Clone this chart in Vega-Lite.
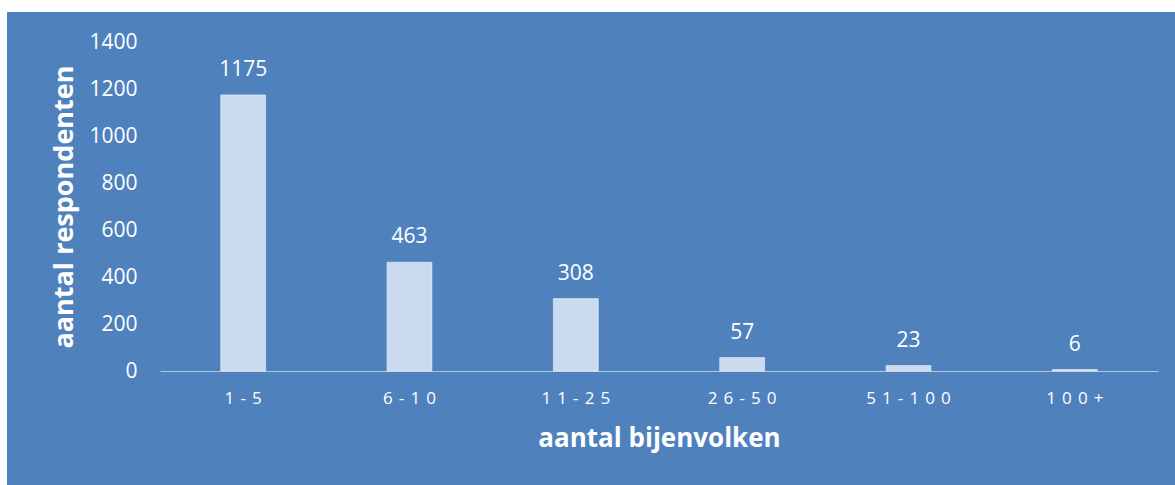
{
  "$schema": "https://vega.github.io/schema/vega-lite/v6.json",
  "width": 1168,
  "height": 473,
  "autosize": {"type": "none"},
  "padding": {"left": 7, "top": 12, "right": 0, "bottom": 0},
  "background": "white",
  "config": {
    "view": {"fill": "#4F81BD", "stroke": null},
    "font": "Open Sans"
  },
  "data": {
    "values": [
      {"bijenvolken": "1-5", "respondenten": 1175},
      {"bijenvolken": "6-10", "respondenten": 463},
      {"bijenvolken": "11-25", "respondenten": 308},
      {"bijenvolken": "26-50", "respondenten": 57},
      {"bijenvolken": "51-100", "respondenten": 23},
      {"bijenvolken": "100+", "respondenten": 6}
    ]
  },
  "encoding": {
    "x": {
      "field": "bijenvolken",
      "type": "nominal",
      "sort": null,
      "scale": {"range": [153, 1151], "paddingInner": 0.73, "paddingOuter": 0.365},
      "axis": {
        "title": "aantal bijenvolken",
        "titleFont": "Open Sans",
        "titleFontSize": 26,
        "titleFontWeight": "bold",
        "titleColor": "white",
        "titlePadding": 19,
        "labelAngle": 0,
        "labelFont": "Open Sans",
        "labelFontSize": 17,
        "labelColor": "white",
        "labelPadding": 19,
        "labelExpr": "join(split(datum.label, ''), ' \u200A')",
        "ticks": false,
        "tickSize": 0,
        "domainColor": "#AFC5E2",
        "domainWidth": 1,
        "offset": -114,
        "grid": false
      }
    },
    "y": {
      "field": "respondenten",
      "type": "quantitative",
      "scale": {"domain": [0, 1400], "range": [359, 30], "nice": false},
      "axis": {
        "title": "aantal respondenten",
        "titleFont": "Open Sans",
        "titleFontSize": 27,
        "titleFontWeight": "bold",
        "titleColor": "white",
        "titlePadding": 10,
        "values": [0, 200, 400, 600, 800, 1000, 1200, 1400],
        "format": "d",
        "labelFont": "Open Sans",
        "labelFontSize": 21,
        "labelColor": "white",
        "labelPadding": 8,
        "ticks": false,
        "tickSize": 0,
        "domain": false,
        "grid": false,
        "offset": -138
      }
    }
  },
  "layer": [
    {
      "mark": {"type": "bar", "fill": "#CBDAEE", "stroke": "white", "strokeWidth": 0.5}
    },
    {
      "mark": {
        "type": "text",
        "baseline": "alphabetic",
        "dy": -19,
        "fontSize": 21,
        "font": "Open Sans",
        "color": "white"
      },
      "encoding": {"text": {"field": "respondenten", "type": "quantitative"}}
    }
  ]
}
